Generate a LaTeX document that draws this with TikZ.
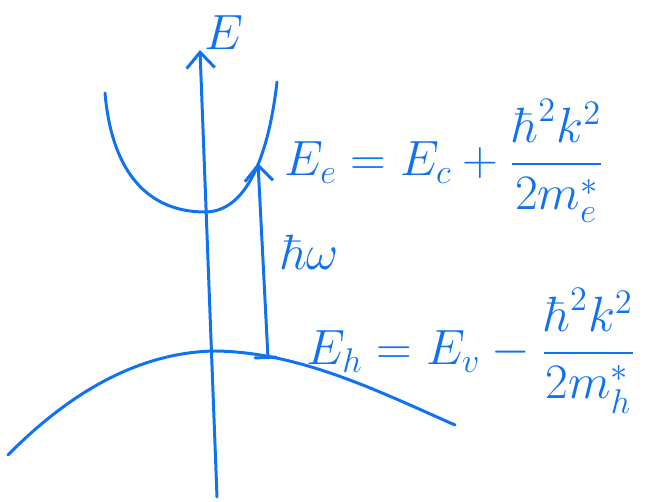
\documentclass[tikz,border=0pt]{standalone}
\usepackage{amsmath}
\usepackage{graphicx}
\usetikzlibrary{arrows.meta}
\definecolor{pen}{RGB}{16,114,240}
\newcommand{\penmath}[1]{\scalebox{1.36}{$#1$}}
\tikzset{
	stroke/.style={pen, line width=1.7pt, line cap=round, line join=round},
	barb/.style={-{Straight Barb[length=9pt,width=16pt,line width=1.7pt]}},
	eqn/.style={pen, inner sep=0pt, font=\huge}
}
\begin{document}
\begin{tikzpicture}[x=0.02cm, y=-0.02cm]
	\useasboundingbox (0,0) rectangle (657,502);
	
	\coordinate (axisbot) at (217,497);
	\coordinate (axistop) at (200,50);
	\draw[stroke, barb] (axisbot) -- (axistop);
	\node[eqn] (E) at (224,33) {\penmath{E}};
	
	% conduction band
	\draw[stroke] (105,93) .. controls (112,175) and (150,212) .. (205,212)
		.. controls (245,212) and (268,160) .. (277,82);
	
	% valence band
	\draw[stroke] (8,455) .. controls (80,382) and (150,352) .. (215,351)
		.. controls (300,352) and (380,392) .. (455,425);
	
	\coordinate (v) at (268,358);
	\coordinate (c) at (258,163);
	\draw[stroke, barb] (v) -- (c);
	\draw[stroke] (255,358) -- (276,357);
	\node[eqn] (hw) at (310,252) {\penmath{\hbar\omega}};
	
	\node[eqn, anchor=base west] (Ee) at (284,176) {\penmath{E_e = E_c + \dfrac{\hbar^2k^2}{2m_e^*}}};
	\node[eqn, anchor=base west] (Eh) at (306,365) {\penmath{E_h = E_v - \dfrac{\hbar^2k^2}{2m_h^*}}};
\end{tikzpicture}
\end{document}
